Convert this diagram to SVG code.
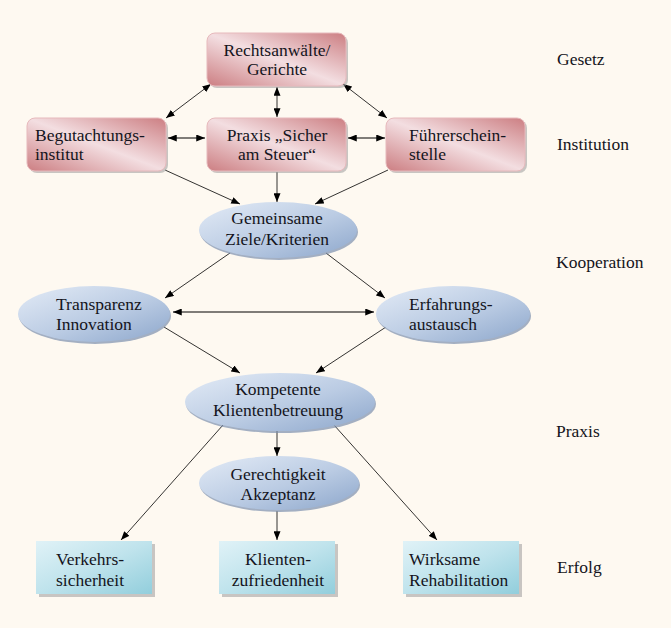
<svg xmlns="http://www.w3.org/2000/svg" width="671" height="628" viewBox="0 0 671 628" font-family="'Liberation Serif', 'DejaVu Serif', serif">
<defs>
<linearGradient id="gRed" x1="0" y1="1" x2="1" y2="0">
<stop offset="0" stop-color="#CC7E82"/>
<stop offset="0.5" stop-color="#F3DEE1"/>
<stop offset="1" stop-color="#CC7E82"/>
</linearGradient>
<linearGradient id="gBlue" x1="0" y1="0" x2="1" y2="1">
<stop offset="0" stop-color="#E3EBF6"/>
<stop offset="0.55" stop-color="#BACBE3"/>
<stop offset="1" stop-color="#8CA6CB"/>
</linearGradient>
<linearGradient id="gCyan" x1="0" y1="0" x2="1" y2="1">
<stop offset="0" stop-color="#E0F2F7"/>
<stop offset="0.5" stop-color="#BFE3EC"/>
<stop offset="1" stop-color="#92CEDC"/>
</linearGradient>
<marker id="ah" viewBox="0 0 10 8" refX="10" refY="4" markerWidth="9" markerHeight="7" markerUnits="userSpaceOnUse" orient="auto-start-reverse">
<path d="M0,0 L10,4 L0,8 Z" fill="#000"/>
</marker>
<style>
text{font-family:'Liberation Serif','DejaVu Serif',serif}
.t{font-size:17.5px;fill:#141420}
.c{text-anchor:middle}
.red{fill:url(#gRed);stroke:#E7B9BC;stroke-width:1}
.blue{fill:url(#gBlue)}
.cyan{fill:url(#gCyan)}
.sh{fill:#9A9A9A;opacity:0.55}
.shb{fill:#7C90AE;opacity:0.7}
.ln{stroke:#000;stroke-width:0.8;fill:none}
.d{marker-start:url(#ah);marker-end:url(#ah)}
.s{marker-end:url(#ah)}
</style>
</defs>
<rect width="671" height="628" fill="#FEF9F1"/>

<g id="connectors">
<line class="ln d" x1="211" y1="84" x2="166" y2="118"/>
<line class="ln d" x1="277" y1="87" x2="277" y2="117"/>
<line class="ln d" x1="343" y1="84" x2="387" y2="118"/>
<line class="ln d" x1="168" y1="138" x2="205" y2="138" style="stroke-width:1.2"/>
<line class="ln d" x1="348" y1="138" x2="385" y2="138" style="stroke-width:1.2"/>
<line class="ln s" x1="165" y1="170" x2="240" y2="204"/>
<line class="ln s" x1="277" y1="172" x2="277" y2="202"/>
<line class="ln s" x1="388" y1="170" x2="315" y2="204"/>
<line class="ln s" x1="230" y1="253" x2="165" y2="298"/>
<line class="ln s" x1="326" y1="253" x2="385" y2="298"/>
<line class="ln d" x1="173" y1="312" x2="374" y2="312" style="stroke-width:1.2"/>
<line class="ln s" x1="164" y1="327" x2="240" y2="373"/>
<line class="ln s" x1="386" y1="327" x2="316" y2="373"/>
<line class="ln s" x1="277" y1="431" x2="277" y2="456"/>
<line class="ln s" x1="223" y1="425" x2="121" y2="540"/>
<line class="ln s" x1="334" y1="425" x2="437" y2="540"/>
<line class="ln s" x1="277" y1="511" x2="277" y2="540"/>
</g>

<g id="rechtsanwaelte">
<rect class="sh" x="209" y="35" width="139" height="53" rx="8"/>
<rect class="red" x="207" y="33" width="139" height="53" rx="8"/>
<text class="t c" x="277" y="56">Rechtsanwälte/</text>
<text class="t c" x="277" y="75">Gerichte</text>
</g>
<g id="begutachtung">
<rect class="sh" x="29" y="120" width="139" height="53" rx="8"/>
<rect class="red" x="27" y="118" width="139" height="53" rx="8"/>
<text class="t" x="35" y="141">Begutachtungs-</text>
<text class="t" x="35" y="160">institut</text>
</g>
<g id="praxis-sicher">
<rect class="sh" x="209" y="120" width="139" height="53" rx="8"/>
<rect class="red" x="207" y="118" width="139" height="53" rx="8"/>
<text class="t c" x="277" y="141">Praxis „Sicher</text>
<text class="t c" x="277" y="160">am Steuer“</text>
</g>
<g id="fuehrerschein">
<rect class="sh" x="388" y="120" width="139" height="53" rx="8"/>
<rect class="red" x="386" y="118" width="139" height="53" rx="8"/>
<text class="t" x="409" y="141">Führerschein-</text>
<text class="t" x="409" y="160">stelle</text>
</g>

<g id="gemeinsame">
<ellipse class="shb" cx="279" cy="232" rx="79" ry="28"/>
<ellipse class="blue" cx="278" cy="230" rx="79" ry="28"/>
<text class="t c" x="277" y="224">Gemeinsame</text>
<text class="t c" x="277" y="245">Ziele/Kriterien</text>
</g>
<g id="transparenz">
<ellipse class="shb" cx="95" cy="316" rx="76" ry="28"/>
<ellipse class="blue" cx="94" cy="314" rx="76" ry="28"/>
<text class="t" x="56" y="310">Transparenz</text>
<text class="t" x="56" y="330">Innovation</text>
</g>
<g id="erfahrungsaustausch">
<ellipse class="shb" cx="454" cy="316" rx="77" ry="28"/>
<ellipse class="blue" cx="453" cy="314" rx="77" ry="28"/>
<text class="t" x="409" y="310">Erfahrungs-</text>
<text class="t" x="409" y="330">austausch</text>
</g>
<g id="kompetente">
<ellipse class="shb" cx="281" cy="404" rx="95" ry="29"/>
<ellipse class="blue" cx="280" cy="402" rx="95" ry="29"/>
<text class="t c" x="278" y="395">Kompetente</text>
<text class="t c" x="278" y="416">Klientenbetreuung</text>
</g>
<g id="gerechtigkeit">
<ellipse class="shb" cx="280" cy="485" rx="80" ry="27"/>
<ellipse class="blue" cx="279" cy="483" rx="80" ry="27"/>
<text class="t c" x="278" y="480">Gerechtigkeit</text>
<text class="t c" x="278" y="500">Akzeptanz</text>
</g>

<g id="verkehrssicherheit">
<rect class="sh" x="39" y="544" width="116" height="53"/>
<rect class="cyan" x="36" y="541" width="116" height="53"/>
<text class="t" x="56" y="565">Verkehrs-</text>
<text class="t" x="56" y="586">sicherheit</text>
</g>
<g id="klientenzufriedenheit">
<rect class="sh" x="222" y="544" width="116" height="53"/>
<rect class="cyan" x="219" y="541" width="116" height="53"/>
<text class="t c" x="278" y="565">Klienten-</text>
<text class="t c" x="278" y="586">zufriedenheit</text>
</g>
<g id="rehabilitation">
<rect class="sh" x="406" y="544" width="116" height="53"/>
<rect class="cyan" x="403" y="541" width="116" height="53"/>
<text class="t" x="409" y="565">Wirksame</text>
<text class="t" x="409" y="586">Rehabilitation</text>
</g>

<g id="labels">
<text class="t" x="557" y="65">Gesetz</text>
<text class="t" x="557" y="150">Institution</text>
<text class="t" x="556" y="268">Kooperation</text>
<text class="t" x="556" y="437">Praxis</text>
<text class="t" x="557" y="573">Erfolg</text>
</g>
</svg>
